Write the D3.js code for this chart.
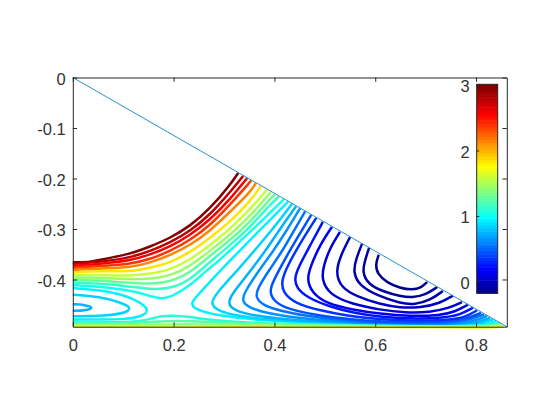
<!DOCTYPE html>
<html>
<head>
<meta charset="utf-8">
<script src="https://cdn.jsdelivr.net/npm/d3@7"></script>
<style>
html,body{margin:0;padding:0;background:#fff}
svg{display:block}
text{font-family:"Liberation Sans",Arial,sans-serif}
</style>
</head>
<body>
<svg id="chart" width="560" height="420"></svg>
<script>
// Plot extents in data units
const xExtent = [0, 0.861];
const yExtent = [0, -0.4935];
const xTicks = [0, 0.2, 0.4, 0.6, 0.8];
const yTicks = [0, -0.1, -0.2, -0.3, -0.4];
const colorbarExtent = [-0.18, 3.01];
const colorbarTicks = [0, 1, 2, 3];

// Upper edge of the triangular domain
const edgeLine = [[0, 0], [0.861, -0.4935]];

// Contour values, one per entry of contourPaths
const contourLevels = [
  3.0, 2.8, 2.6, 2.4, 2.15, 1.85, 1.6, 1.45, 1.3, 1.15, 1.05,
  0.95, 0.85, 0.75,
  0.95, 0.85, 0.75, 0.65, 0.55, 0.45, 0.35, 0.22, 0.15, 0.05, 0.0, -0.05, -0.1, -0.15,
  1.1, 1.25, 1.45, 1.65
];

// Contour polylines as [x, y]
const contourPaths = [
  [[0,-.366],[.030,-.366],[.054,-.361],[.113,-.350],[.153,-.335],[.193,-.318],[.233,-.294],[.272,-.260],[.312,-.213],[.328,-.189]],
  [[0,-.369],[.054,-.365],[.113,-.357],[.153,-.344],[.193,-.327],[.233,-.304],[.272,-.272],[.312,-.227],[.338,-.195]],
  [[0,-.373],[.054,-.369],[.113,-.363],[.153,-.351],[.193,-.335],[.233,-.312],[.272,-.282],[.312,-.241],[.346,-.199]],
  [[0,-.377],[.054,-.373],[.113,-.370],[.153,-.360],[.193,-.344],[.233,-.322],[.272,-.293],[.312,-.252],[.354,-.204]],
  [[0,-.381],[.054,-.378],[.113,-.377],[.153,-.367],[.193,-.352],[.233,-.332],[.272,-.304],[.312,-.266],[.352,-.227],[.363,-.209]],
  [[0,-.386],[.054,-.383],[.113,-.385],[.153,-.377],[.193,-.367],[.233,-.346],[.272,-.318],[.312,-.286],[.352,-.245],[.373,-.215]],
  [[0,-.391],[.054,-.391],[.113,-.393],[.153,-.389],[.193,-.381],[.233,-.361],[.272,-.332],[.312,-.300],[.352,-.260],[.371,-.239],[.385,-.222]],
  [[0,-.396],[.054,-.396],[.113,-.400],[.153,-.399],[.193,-.393],[.233,-.374],[.272,-.343],[.312,-.312],[.352,-.274],[.371,-.252],[.393,-.227]],
  [[0,-.401],[.054,-.402],[.113,-.407],[.153,-.409],[.193,-.405],[.233,-.387],[.272,-.353],[.312,-.322],[.352,-.286],[.381,-.252],[.401,-.231]],
  [[0,-.406],[.054,-.408],[.113,-.414],[.153,-.419],[.193,-.419],[.233,-.401],[.272,-.365],[.312,-.332],[.352,-.296],[.391,-.252],[.409,-.236]],
  [[0,-.411],[.054,-.414],[.113,-.421],[.153,-.433],[.173,-.438],[.193,-.436],[.233,-.412],[.262,-.385],[.292,-.361],[.312,-.342],[.352,-.306],[.391,-.268],[.419,-.241]],

  [[0,-.417],[.054,-.421],[.104,-.431],[.133,-.445],[.152,-.460],[.139,-.473],[.104,-.479],[.054,-.479],[0,-.479]],
  [[0,-.430],[.054,-.434],[.094,-.445],[.118,-.456],[.104,-.467],[.064,-.472],[0,-.473]],
  [[0,-.449],[.024,-.450],[.043,-.456],[.024,-.462],[0,-.462]],

  [[.427,-.246],[.381,-.292],[.332,-.342],[.288,-.387],[.248,-.431],[.232,-.448],[.246,-.461],[.292,-.472],[.361,-.480],[.471,-.486],[.619,-.491],[.729,-.492],[.798,-.491],[.824,-.488],[.840,-.482]],
  [[.435,-.250],[.397,-.300],[.361,-.342],[.324,-.385],[.284,-.428],[.273,-.448],[.286,-.461],[.322,-.472],[.391,-.480],[.490,-.486],[.619,-.490],[.719,-.491],[.788,-.489],[.816,-.485],[.834,-.479]],
  [[.443,-.255],[.411,-.300],[.383,-.342],[.348,-.389],[.316,-.428],[.307,-.448],[.320,-.461],[.356,-.471],[.421,-.479],[.510,-.485],[.619,-.489],[.709,-.490],[.778,-.488],[.808,-.483],[.828,-.476]],
  [[.451,-.259],[.421,-.308],[.399,-.342],[.367,-.385],[.342,-.423],[.335,-.442],[.348,-.455],[.381,-.466],[.441,-.476],[.520,-.483],[.619,-.488],[.699,-.489],[.768,-.487],[.800,-.481],[.822,-.472]],
  [[.461,-.265],[.437,-.306],[.417,-.342],[.387,-.385],[.367,-.417],[.362,-.435],[.377,-.451],[.411,-.462],[.461,-.472],[.530,-.480],[.619,-.486],[.689,-.487],[.758,-.485],[.792,-.478],[.816,-.469]],
  [[.473,-.272],[.451,-.308],[.431,-.342],[.407,-.385],[.392,-.415],[.392,-.432],[.407,-.450],[.441,-.462],[.490,-.472],[.550,-.479],[.619,-.484],[.679,-.485],[.748,-.483],[.784,-.477],[.810,-.466]],
  [[.483,-.278],[.451,-.328],[.427,-.371],[.414,-.401],[.416,-.426],[.443,-.448],[.484,-.460],[.544,-.472],[.609,-.479],[.669,-.482],[.748,-.480],[.778,-.475],[.802,-.461]],
  [[.496,-.286],[.471,-.332],[.447,-.377],[.440,-.397],[.443,-.416],[.465,-.436],[.510,-.454],[.556,-.466],[.609,-.474],[.669,-.478],[.738,-.476],[.768,-.470],[.794,-.456]],
  [[.514,-.296],[.490,-.332],[.473,-.371],[.464,-.399],[.474,-.426],[.504,-.448],[.556,-.460],[.609,-.468],[.669,-.473],[.729,-.471],[.758,-.464],[.784,-.450]],
  [[.530,-.306],[.510,-.338],[.498,-.371],[.493,-.399],[.509,-.430],[.554,-.449],[.609,-.460],[.659,-.466],[.709,-.465],[.748,-.456],[.772,-.445]],
  [[.550,-.316],[.532,-.351],[.521,-.385],[.532,-.416],[.564,-.434],[.609,-.449],[.649,-.456],[.689,-.456],[.729,-.447],[.754,-.432]],
  [[.574,-.329],[.562,-.359],[.556,-.385],[.568,-.412],[.604,-.432],[.649,-.447],[.679,-.450],[.709,-.441],[.734,-.423]],
  [[.588,-.337],[.580,-.361],[.574,-.385],[.586,-.410],[.619,-.425],[.649,-.433],[.673,-.436],[.699,-.431],[.723,-.415]],
  [[.607,-.351],[.600,-.371],[.605,-.390],[.623,-.406],[.649,-.417],[.673,-.421],[.692,-.416],[.703,-.405]],

  [[0,-.484],[.074,-.485],[.133,-.483],[.153,-.478],[.173,-.473],[.197,-.471],[.233,-.474],[.272,-.480],[.352,-.486],[.471,-.489],[.619,-.492],[.729,-.493],[.808,-.492],[.832,-.490],[.846,-.485]],
  [[0,-.487],[.094,-.488],[.173,-.482],[.233,-.482],[.312,-.487],[.451,-.490],[.619,-.493],[.748,-.494],[.818,-.493],[.838,-.491],[.850,-.488]],
  [[0,-.490],[.153,-.490],[.233,-.488],[.332,-.490],[.471,-.492],[.649,-.494],[.788,-.494],[.828,-.493],[.848,-.490]],
  [[0,-.493],[.252,-.493],[.451,-.494],[.788,-.495],[.838,-.495],[.855,-.492]]
];

const svg = d3.select("#chart");
const inkColor = "#262626";
const tickLen = 4.3;
const fontPx = 16.5;

const x = d3.scaleLinear().domain(xExtent).range([72.8, 506.8]);
const y = d3.scaleLinear().domain(yExtent).range([77.5, 326.7]);
const barY = d3.scaleLinear().domain(colorbarExtent).range([293.3, 84.3]);

// 64-step jet palette shared by the contours and the colour bar
const jetRamp = d3.scaleLinear()
  .domain([0, 0.11, 0.36, 0.61, 0.86, 1])
  .range(["#00008f", "#0000ff", "#00ffff", "#ffff00", "#ff0000", "#800000"]);
const jetSteps = d3.range(64).map(i => jetRamp(i / 63));
const levelColor = d3.scaleQuantize().domain(colorbarExtent).range(jetSteps);

const line = d3.line()
  .x(d => x(d[0]))
  .y(d => y(d[1]))
  .curve(d3.curveBasis);

// Contours
svg.append("g")
  .attr("fill", "none")
  .attr("stroke-width", 2.5)
  .selectAll("path")
  .data(contourPaths)
  .join("path")
  .attr("d", line)
  .attr("stroke", (d, i) => levelColor(contourLevels[i]));

// Domain edge
svg.append("path")
  .attr("d", d3.line().x(d => x(d[0])).y(d => y(d[1]))(edgeLine))
  .attr("fill", "none")
  .attr("stroke", "#2b8fd2")
  .attr("stroke-width", 1);

// Boxed axes with inward ticks on all four sides
function styleAxis(g) {
  g.selectAll("path.domain").attr("stroke", inkColor).attr("stroke-width", 1);
  g.selectAll(".tick line").attr("stroke", inkColor).attr("stroke-width", 1);
  g.selectAll("text")
    .attr("fill", "#333333")
    .style("font-size", fontPx + "px")
    .style("font-family", '"Liberation Sans",Arial,sans-serif');
}
const bottomY = y.range()[1], topY = y.range()[0];
const leftX = x.range()[0], rightX = x.range()[1];

svg.append("g").attr("transform", `translate(0,${bottomY})`)
  .call(d3.axisBottom(x).tickValues(xTicks).tickFormat(d3.format("~g")).tickSize(-tickLen).tickSizeOuter(0).tickPadding(13))
  .call(styleAxis);
svg.append("g").attr("transform", `translate(0,${topY})`)
  .call(d3.axisTop(x).tickValues(xTicks).tickFormat("").tickSize(-tickLen).tickSizeOuter(0))
  .call(styleAxis);
const leftAxis = svg.append("g").attr("transform", `translate(${leftX},0)`)
  .call(d3.axisLeft(y).tickValues(yTicks).tickFormat(d => d3.format("~g")(d).replace("\u2212", "-")).tickSize(-tickLen).tickSizeOuter(0).tickPadding(7))
  .call(styleAxis);
leftAxis.selectAll("text").attr("dy", "0.42em");
svg.append("g").attr("transform", `translate(${rightX},0)`)
  .call(d3.axisRight(y).tickValues(yTicks).tickFormat("").tickSize(-tickLen).tickSizeOuter(0))
  .call(styleAxis);

// Colour bar
const barLeft = 476.7, barRight = 497.7;
const stepHeight = (colorbarExtent[1] - colorbarExtent[0]) / jetSteps.length;
svg.append("g")
  .selectAll("rect")
  .data(jetSteps)
  .join("rect")
  .attr("x", barLeft)
  .attr("width", barRight - barLeft)
  .attr("y", (d, i) => barY(colorbarExtent[0] + (i + 1) * stepHeight))
  .attr("height", Math.abs(barY(0) - barY(stepHeight)) + 0.5)
  .attr("fill", d => d);
svg.append("rect")
  .attr("x", barLeft).attr("y", barY.range()[1])
  .attr("width", barRight - barLeft)
  .attr("height", barY.range()[0] - barY.range()[1])
  .attr("fill", "none").attr("stroke", inkColor).attr("stroke-width", 1);
const barAxis = svg.append("g").attr("transform", `translate(${barLeft},0)`)
  .call(d3.axisLeft(barY).tickValues(colorbarTicks).tickFormat(d3.format("d")).tickSize(-tickLen * 0.6).tickSizeOuter(0).tickPadding(7))
  .call(styleAxis)
  .call(g => g.select("path.domain").remove());
barAxis.selectAll("text").attr("dy", "0.42em");
</script>
</body>
</html>
